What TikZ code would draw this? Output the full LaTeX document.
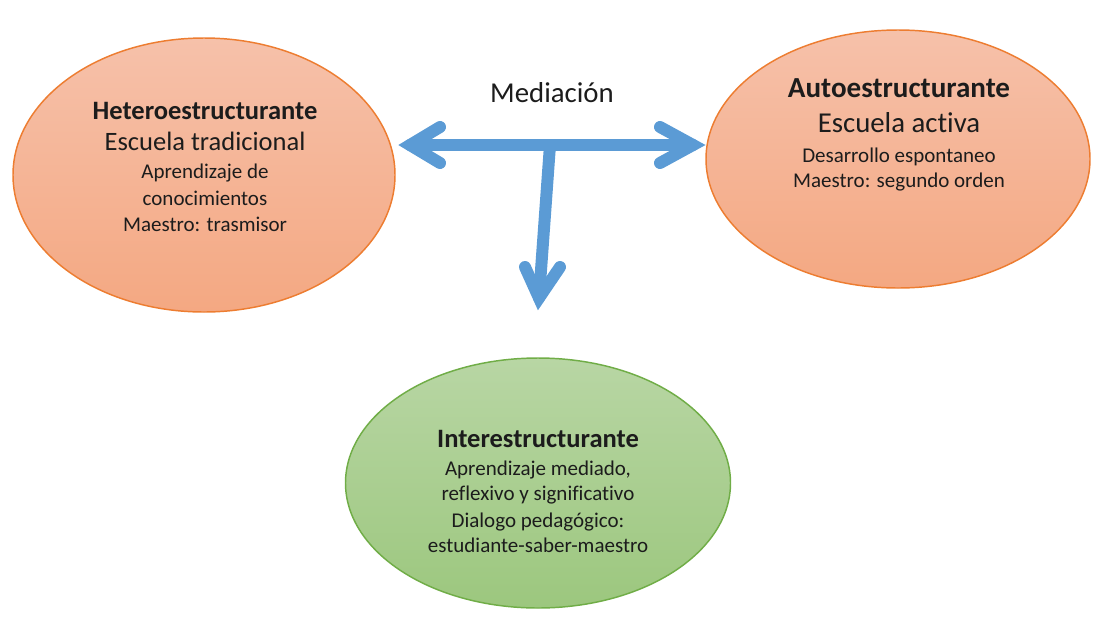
\documentclass[tikz,border=0pt]{standalone}
\usepackage{fontspec}
\setmainfont{Carlito}[Ligatures=NoCommon]
\usetikzlibrary{shapes.geometric,calc}
\definecolor{peachtop}{RGB}{246,193,170}
\definecolor{peachbot}{RGB}{244,168,130}
\definecolor{peachline}{RGB}{237,125,49}
\definecolor{greentop}{RGB}{184,214,164}
\definecolor{greenbot}{RGB}{156,199,126}
\definecolor{greenline}{RGB}{112,173,71}
\definecolor{arrowblue}{RGB}{91,155,213}
\definecolor{ink}{RGB}{28,28,28}
\tikzset{
  bubble/.style={ellipse, inner sep=0pt, line width=1.1pt},
  orangebubble/.style={bubble, draw=peachline, top color=peachtop, bottom color=peachbot},
  greenbubble/.style={bubble, draw=greenline, top color=greentop, bottom color=greenbot},
  txt/.style={anchor=base, inner sep=0pt, text=ink},
  head/.style={txt, font=\fontsize{19.9}{24}\selectfont\bfseries},
  sub/.style={txt, font=\fontsize{19.9}{24}\selectfont},
  headR/.style={txt, font=\fontsize{21.8}{26}\selectfont\bfseries},
  subR/.style={txt, font=\fontsize{21.6}{26}\selectfont},
  small/.style={txt, font=\fontsize{15.75}{19}\selectfont},
  arrowline/.style={draw=arrowblue, line width=9pt, line cap=round, line join=miter},
}
\begin{document}
\begin{tikzpicture}[x=0.75pt, y=-0.75pt]
  \useasboundingbox (0,0) rectangle (1096,619);

  % the three approaches (sizes in pt = px * 0.75)
  \node[orangebubble, minimum width=286.5pt, minimum height=205.5pt] (hetero) at (204,175) {};
  \node[orangebubble, minimum width=288pt, minimum height=193.5pt] (auto) at (898,159) {};
  \node[greenbubble, minimum width=288.75pt, minimum height=187.5pt] (inter) at (538,483) {};

  % heteroestructurante
  \node[head]  (h1) at (205,119) {Heteroestructurante};
  \node[sub]   (h2) at (205,150) {Escuela tradicional};
  \node[small] (h3) at (205,178) {Aprendizaje de};
  \node[small] (h4) at (205,205) {conocimientos};
  \node[small] (h5) at (205,231) {Maestro: trasmisor};

  % autoestructurante
  \node[headR] (a1) at (899,97)  {Autoestructurante};
  \node[subR]  (a2) at (899,132) {Escuela activa};
  \node[small] (a3) at (899,162) {Desarrollo espontaneo};
  \node[small] (a4) at (899,187) {Maestro: segundo orden};

  % interestructurante
  \node[head]  (i1) at (538,447) {Interestructurante};
  \node[small] (i2) at (538,475) {Aprendizaje mediado,};
  \node[small] (i3) at (538,500) {reflexivo y significativo};
  \node[small] (i4) at (538,527) {Dialogo pedagógico:};
  \node[small] (i5) at (538,552) {estudiante-saber-maestro};

  % mediation arrows
  \node[subR] (med) at (552,102) {Mediación};
  \coordinate (ltip) at (410,145);
  \coordinate (rtip) at (693,145);
  \coordinate (junc) at (550,145);
  \coordinate (dtip) at (539,298);

  \draw[arrowline] (ltip) -- (rtip);
  \draw[arrowline] ($(ltip)+(30,-18)$) -- (ltip) -- ($(ltip)+(30,18)$);
  \draw[arrowline] ($(rtip)+(-33,-18)$) -- (rtip) -- ($(rtip)+(-33,18)$);
  \draw[arrowline] (junc) -- (dtip);
  \draw[arrowline] ($(dtip)+(-14,-31)$) -- (dtip) -- ($(dtip)+(21,-31)$);
\end{tikzpicture}
\end{document}
